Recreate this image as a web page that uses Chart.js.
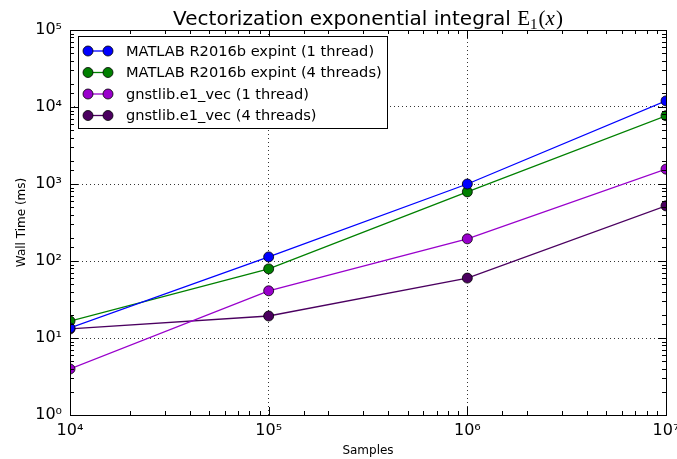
<!DOCTYPE html>
<html>
<head>
<meta charset="utf-8">
<script src="https://cdn.jsdelivr.net/npm/chart.js@4/dist/chart.umd.min.js"></script>
<style>
  html, body { margin: 0; padding: 0; background: #fff; }
  #wrap { width: 677px; height: 459px; }
</style>
</head>
<body>
<div id="wrap"><canvas id="timing"></canvas></div>
<script>
const samples = [1e4, 1e5, 1e6, 1e7];
const matlab1 = [13.5, 113, 1000, 12000];
const matlab4 = [16.6, 79, 790, 7700];
const gnst1 = [3.96, 41, 194, 1560];
const gnst4 = [13.1, 19.3, 60, 520];

const seriesNames = [
  "MATLAB R2016b expint (1 thread)",
  "MATLAB R2016b expint (4 threads)",
  "gnstlib.e1_vec (1 thread)",
  "gnstlib.e1_vec (4 threads)",
];
const seriesColors = ["#0000ff", "#008000", "#9900cc", "#4b0060"];

const SUP = { "0": "⁰", "1": "¹", "2": "²", "3": "³", "4": "⁴", "5": "⁵", "6": "⁶", "7": "⁷", "-": "⁻" };

function isPow10(v) {
  const e = Math.log10(v);
  return Math.abs(e - Math.round(e)) < 1e-9;
}

function powLabel(v) {
  if (!isPow10(v)) return "";
  const e = String(Math.round(Math.log10(v)));
  return "10" + e.split("").map(c => SUP[c]).join("");
}

function makeSet(i, values) {
  return {
    label: seriesNames[i],
    data: samples.map((x, k) => ({ x: x, y: values[k] })),
    borderColor: seriesColors[i],
    backgroundColor: seriesColors[i],
    pointBackgroundColor: seriesColors[i],
    pointBorderColor: "#000",
    pointBorderWidth: 0.8,
    pointRadius: 5,
    borderWidth: 1.3,
    tension: 0,
    clip: 0,
  };
}

// inward tick marks, frame, title, legend
const mplLook = {
  id: "mplLook",
  afterDatasetsDraw(chart) {
    const ctx = chart.ctx;
    const a = chart.chartArea;
    const xs = chart.scales.x, ys = chart.scales.y;
    ctx.save();
    ctx.strokeStyle = "#000";
    ctx.lineWidth = 1;
    ctx.beginPath();
    xs.ticks.forEach(t => {
      const px = Math.round(xs.getPixelForValue(t.value)) + 0.5;
      const len = isPow10(t.value) ? 8 : 4;
      ctx.moveTo(px, a.bottom); ctx.lineTo(px, a.bottom - len);
      ctx.moveTo(px, a.top); ctx.lineTo(px, a.top + len);
    });
    ys.ticks.forEach(t => {
      const py = Math.round(ys.getPixelForValue(t.value)) + 0.5;
      const len = isPow10(t.value) ? 8 : 4;
      ctx.moveTo(a.left, py); ctx.lineTo(a.left + len, py);
      ctx.moveTo(a.right, py); ctx.lineTo(a.right - len, py);
    });
    ctx.stroke();
    ctx.strokeRect(Math.round(a.left) + 0.5, Math.round(a.top) + 0.5,
      Math.round(a.right - a.left), Math.round(a.bottom - a.top));

    // legend
    const lx = 78, ly = 36, lw = 309, lh = 92;
    ctx.fillStyle = "#fff";
    ctx.fillRect(lx, ly, lw, lh);
    ctx.strokeRect(lx + 0.5, ly + 0.5, lw, lh);
    ctx.font = "14.6px 'DejaVu Sans'";
    ctx.textBaseline = "middle";
    chart.data.datasets.forEach((ds, i) => {
      const y = 51 + i * 21.5;
      ctx.strokeStyle = ds.borderColor;
      ctx.lineWidth = 1.3;
      ctx.beginPath(); ctx.moveTo(88, y); ctx.lineTo(108, y); ctx.stroke();
      [88, 108].forEach(cx => {
        ctx.beginPath();
        ctx.arc(cx, y, 5, 0, Math.PI * 2);
        ctx.fillStyle = ds.borderColor;
        ctx.fill();
        ctx.strokeStyle = "#000";
        ctx.lineWidth = 0.8;
        ctx.stroke();
      });
      ctx.fillStyle = "#000";
      ctx.fillText(ds.label, 126, y + 1);
    });

    // title with math part, centred over the axes
    const base = 25;
    const parts = [
      ["Vectorization exponential integral ", "20px 'DejaVu Sans'", 0, 0],
      ["E", "21px 'Liberation Serif'", 0, 0],
      ["1", "15px 'Liberation Serif'", 4, 1],
      ["(", "21px 'Liberation Serif'", 0, 0],
      ["x", "italic 21px 'Liberation Serif'", 0, 1],
      [")", "21px 'Liberation Serif'", 0, 0],
    ];
    let total = 0;
    parts.forEach(p => { ctx.font = p[1]; total += ctx.measureText(p[0]).width + p[3]; });
    let x = (a.left + a.right) / 2 - total / 2;
    ctx.textBaseline = "alphabetic";
    ctx.fillStyle = "#000";
    parts.forEach(p => {
      ctx.font = p[1];
      ctx.fillText(p[0], x, base + p[2]);
      x += ctx.measureText(p[0]).width + p[3];
    });
    ctx.restore();
  },
};

const dottedGrid = {
  drawTicks: false,
  color: c => (c.tick && isPow10(c.tick.value) ? "#000" : "rgba(0,0,0,0)"),
  lineWidth: 0.8,
};

new Chart(document.getElementById("timing"), {
  type: "line",
  data: {
    datasets: [
      makeSet(0, matlab1),
      makeSet(1, matlab4),
      makeSet(2, gnst1),
      makeSet(3, gnst4),
    ],
  },
  options: {
    responsive: true,
    maintainAspectRatio: false,
    animation: false,
    layout: { padding: { top: 30, right: 11, left: 0, bottom: 0 } },
    plugins: {
      legend: { display: false },
      title: { display: false },
      tooltip: { enabled: false },
    },
    scales: {
      x: {
        type: "logarithmic",
        min: 1e4,
        max: 1e7,
        afterFit: s => { s.height = 44; s.paddingLeft = 0; s.paddingRight = 0; },
        border: { display: false, dash: [1, 3] },
        grid: dottedGrid,
        ticks: {
          autoSkip: false,
          maxRotation: 0,
          padding: 6,
          color: "#000",
          font: { family: "DejaVu Sans", size: 16 },
          callback: v => powLabel(v),
        },
        title: {
          display: true,
          text: "Samples",
          color: "#000",
          font: { family: "DejaVu Sans", size: 12 },
          padding: { top: 0, bottom: 1 },
        },
      },
      y: {
        type: "logarithmic",
        min: 1,
        max: 1e5,
        afterFit: s => { s.width = 70; s.paddingTop = 0; s.paddingBottom = 0; },
        border: { display: false, dash: [1, 3] },
        grid: dottedGrid,
        ticks: {
          autoSkip: false,
          padding: 8,
          color: "#000",
          font: { family: "DejaVu Sans", size: 16 },
          callback: v => powLabel(v),
        },
        title: {
          display: true,
          text: "Wall Time (ms)",
          color: "#000",
          font: { family: "DejaVu Sans", size: 12 },
          padding: { top: 15, bottom: 0 },
        },
      },
    },
  },
  plugins: [mplLook],
});
</script>
</body>
</html>
